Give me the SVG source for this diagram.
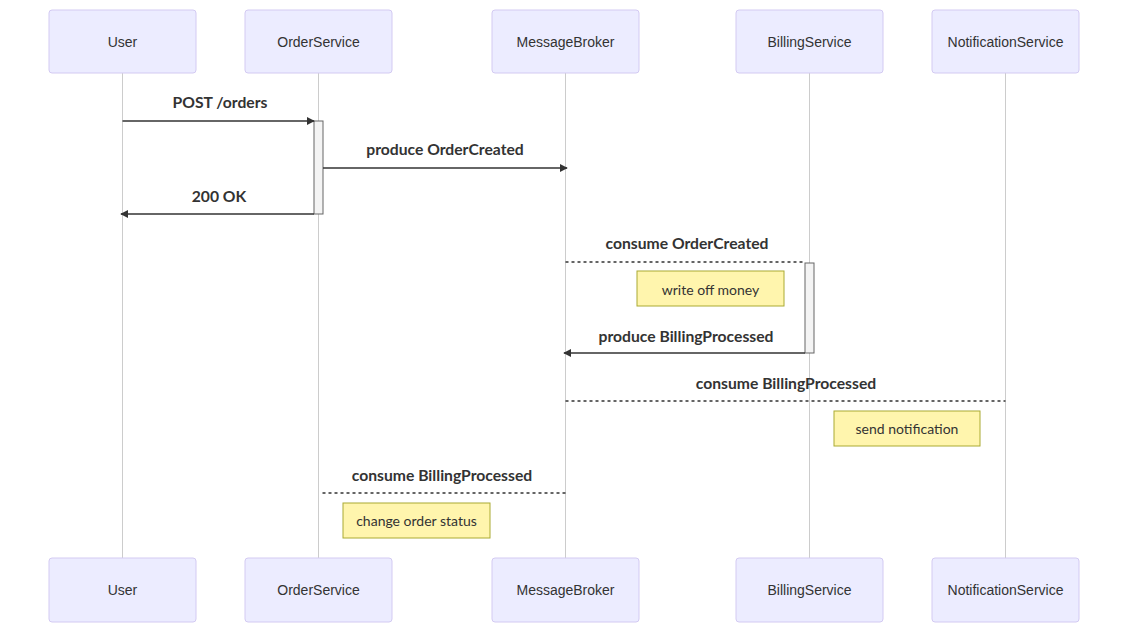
<svg xmlns="http://www.w3.org/2000/svg" width="1128" height="623" viewBox="0 0 1128 623">
<style>
.actor{fill:#ECECFF;stroke:#d3caf2;stroke-width:1}
.alabel{font-family:"Liberation Sans",Arial,sans-serif;font-size:14px;fill:#333;text-anchor:middle;dominant-baseline:central}
.life{stroke:#cccccc;stroke-width:1}
.msg{stroke:#333;stroke-width:1.5;fill:none}
.dot{stroke:#333;stroke-width:1.5;fill:none;stroke-dasharray:3,3}
.mtext{font-family:Lato,"Open Sans",sans-serif;font-size:15.7px;font-weight:bold;fill:#333;text-anchor:middle}
.act{fill:#f4f4f4;stroke:#666;stroke-width:1}
.note{fill:#fff5ad;stroke:#aaaa33;stroke-width:1}
.ntext{font-family:Lato,"Open Sans",sans-serif;font-size:14px;fill:#333;text-anchor:middle;dominant-baseline:central}
</style>
<defs>
<marker id="arrow" viewBox="0 0 10 10" refX="9" refY="5" markerWidth="8" markerHeight="8" markerUnits="userSpaceOnUse" orient="auto">
<path d="M0,0 L10,5 L0,10 z" fill="#333"/>
</marker>
</defs>
<rect width="1128" height="623" fill="#ffffff"/>
<g id="lifelines">
<line class="life" x1="122.5" y1="73" x2="122.5" y2="558"/>
<line class="life" x1="318.5" y1="73" x2="318.5" y2="558"/>
<line class="life" x1="565.5" y1="73" x2="565.5" y2="558"/>
<line class="life" x1="809.5" y1="73" x2="809.5" y2="558"/>
<line class="life" x1="1005.5" y1="73" x2="1005.5" y2="558"/>
</g>
<g id="User"><rect class="actor" x="49" y="10" width="147" height="63" rx="3"/><text class="alabel" x="122.5" y="41.5">User</text></g>
<g id="OrderService"><rect class="actor" x="245" y="10" width="147" height="63" rx="3"/><text class="alabel" x="318.5" y="41.5">OrderService</text></g>
<g id="MessageBroker"><rect class="actor" x="492" y="10" width="147" height="63" rx="3"/><text class="alabel" x="565.5" y="41.5">MessageBroker</text></g>
<g id="BillingService"><rect class="actor" x="736" y="10" width="147" height="63" rx="3"/><text class="alabel" x="809.5" y="41.5">BillingService</text></g>
<g id="NotificationService"><rect class="actor" x="932" y="10" width="147" height="63" rx="3"/><text class="alabel" x="1005.5" y="41.5">NotificationService</text></g>
<g id="User-bottom"><rect class="actor" x="49" y="558" width="147" height="64" rx="3"/><text class="alabel" x="122.5" y="590">User</text></g>
<g id="OrderService-bottom"><rect class="actor" x="245" y="558" width="147" height="64" rx="3"/><text class="alabel" x="318.5" y="590">OrderService</text></g>
<g id="MessageBroker-bottom"><rect class="actor" x="492" y="558" width="147" height="64" rx="3"/><text class="alabel" x="565.5" y="590">MessageBroker</text></g>
<g id="BillingService-bottom"><rect class="actor" x="736" y="558" width="147" height="64" rx="3"/><text class="alabel" x="809.5" y="590">BillingService</text></g>
<g id="NotificationService-bottom"><rect class="actor" x="932" y="558" width="147" height="64" rx="3"/><text class="alabel" x="1005.5" y="590">NotificationService</text></g>
<g id="activations">
<rect class="act" x="314" y="121" width="9" height="93"/>
<rect class="act" x="805" y="263" width="9" height="90"/>
</g>
<g id="connectors">
<line class="msg" x1="122.5" y1="121" x2="314" y2="121" marker-end="url(#arrow)"/>
<text class="mtext" x="220" y="108">POST /orders</text>
<line class="msg" x1="323" y1="168" x2="567" y2="168" marker-end="url(#arrow)"/>
<text class="mtext" x="445" y="155">produce OrderCreated</text>
<line class="msg" x1="314" y1="214" x2="121" y2="214" marker-end="url(#arrow)"/>
<text class="mtext" x="219" y="202">200 OK</text>
<line class="dot" x1="565.5" y1="262" x2="805" y2="262"/>
<text class="mtext" x="687" y="249">consume OrderCreated</text>
<line class="msg" x1="805" y1="353" x2="564" y2="353" marker-end="url(#arrow)"/>
<text class="mtext" x="686" y="342">produce BillingProcessed</text>
<line class="dot" x1="565.5" y1="401" x2="1005.5" y2="401"/>
<text class="mtext" x="786" y="389">consume BillingProcessed</text>
<line class="dot" x1="565.5" y1="493" x2="321" y2="493"/>
<text class="mtext" x="442" y="481">consume BillingProcessed</text>
</g>
<g id="note-write-off-money"><rect class="note" x="637" y="271" width="147" height="35"/><text class="ntext" x="710.5" y="289">write off money</text></g>
<g id="note-send-notification"><rect class="note" x="834" y="411" width="146" height="35"/><text class="ntext" x="907" y="428.5">send notification</text></g>
<g id="note-change-order-status"><rect class="note" x="343" y="503" width="147" height="35"/><text class="ntext" x="416.5" y="520.5">change order status</text></g>
</svg>
